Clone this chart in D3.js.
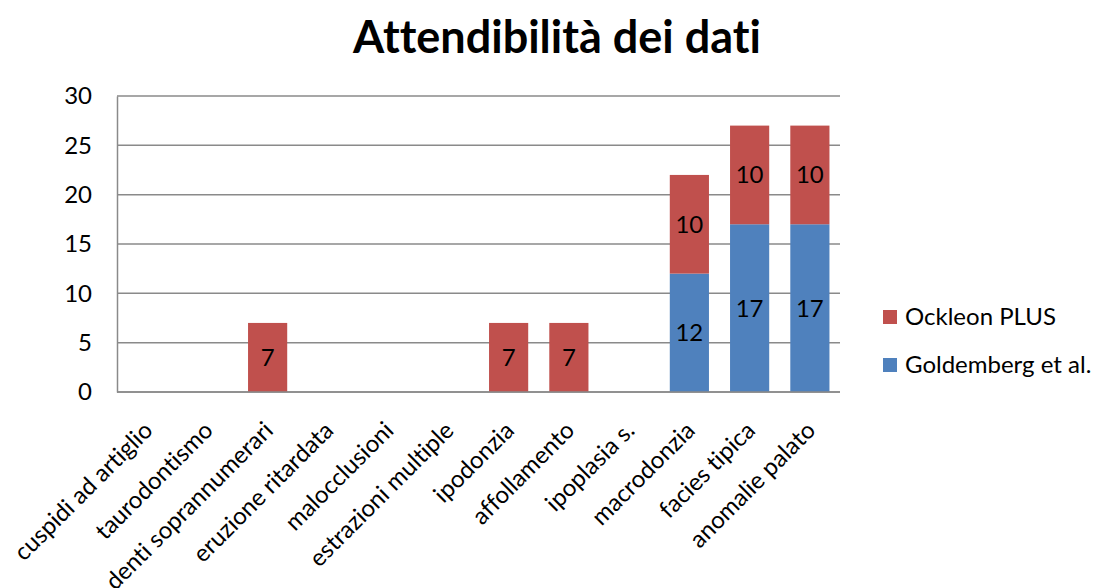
<!DOCTYPE html>
<html>
<head>
<meta charset="utf-8">
<script src="https://cdn.jsdelivr.net/npm/d3@7"></script>
<style>
  body { margin: 0; background: #fff; }
  svg { display: block; font-family: Lato, "Open Sans", "Liberation Sans", sans-serif; font-variant-ligatures: none; }
</style>
</head>
<body>
<svg id="chart" width="1099" height="588"></svg>
<script>
const categories = ["cuspidi ad artiglio", "taurodontismo", "denti soprannumerari", "eruzione ritardata",
  "malocclusioni", "estrazioni multiple", "ipodonzia", "affollamento", "ipoplasia s.",
  "macrodonzia", "facies tipica", "anomalie palato"];
const goldemberg = [0, 0, 0, 0, 0, 0, 0, 0, 0, 12, 17, 17];
const ockleon = [0, 0, 7, 0, 0, 0, 7, 7, 0, 10, 10, 10];
const seriesNames = ["Goldemberg et al.", "Ockleon PLUS"];
const yTicks = [0, 5, 10, 15, 20, 25, 30];

const colors = { "Goldemberg et al.": "#4F81BD", "Ockleon PLUS": "#C0504D" };

const svg = d3.select("#chart");
const margin = { left: 117, right: 1099 - 840, top: 96, bottom: 588 - 392 };
const width = 1099 - margin.left - margin.right;
const height = 588 - margin.top - margin.bottom;

svg.append("text")
  .attr("x", 557).attr("y", 53)
  .attr("text-anchor", "middle")
  .attr("font-size", 45).attr("font-weight", "bold")
  .text("Attendibilità dei dati");

const g = svg.append("g").attr("transform", `translate(${margin.left},${margin.top})`);

const x = d3.scaleBand().domain(categories).range([0, width]).paddingInner(0.35).paddingOuter(0.175);
const y = d3.scaleLinear().domain([0, 30]).range([height, 0]);

// gridlines
g.append("g").selectAll("line").data(yTicks).join("line")
  .attr("x1", 0).attr("x2", width)
  .attr("y1", d => y(d)).attr("y2", d => y(d))
  .attr("stroke", "#8a8a8a").attr("stroke-width", 1.5);

// y axis
const yAxis = g.append("g").call(d3.axisLeft(y).tickValues(yTicks).tickSize(0).tickPadding(25));
yAxis.select(".domain").attr("stroke", "#8a8a8a").attr("stroke-width", 1.5);
yAxis.selectAll("text").attr("font-size", 24).attr("fill", "#000")
  .attr("font-family", "Lato, 'Open Sans', sans-serif");

// stacked bars
const rows = categories.map((c, i) => ({ cat: c, "Goldemberg et al.": goldemberg[i], "Ockleon PLUS": ockleon[i] }));
const stack = d3.stack().keys(seriesNames)(rows);

const layers = g.append("g").selectAll("g").data(stack).join("g")
  .attr("fill", d => colors[d.key]);
layers.selectAll("rect").data(d => d.filter(p => p[1] - p[0] > 0)).join("rect")
  .attr("x", d => x(d.data.cat))
  .attr("width", x.bandwidth())
  .attr("y", d => y(d[1]))
  .attr("height", d => y(d[0]) - y(d[1]));

// value labels
layers.selectAll("text").data(d => d.filter(p => p[1] - p[0] > 0)).join("text")
  .attr("x", d => x(d.data.cat) + x.bandwidth() / 2)
  .attr("y", d => (y(d[0]) + y(d[1])) / 2)
  .attr("dy", "0.35em")
  .attr("text-anchor", "middle")
  .attr("font-size", 24).attr("fill", "#000")
  .text(d => d[1] - d[0]);

// bottom axis line
g.append("line").attr("x1", 0).attr("x2", width).attr("y1", height).attr("y2", height)
  .attr("stroke", "#8a8a8a").attr("stroke-width", 1.5);

// category labels
g.append("g").selectAll("text").data(categories).join("text")
  .attr("transform", d => `translate(${x(d) + x.bandwidth() / 2 + 1},${height + 34}) rotate(-45)`)
  .attr("text-anchor", "end")
  .attr("dy", "0.35em")
  .attr("font-size", 24).attr("fill", "#000")
  .text(d => d);

// legend
const legendOrder = ["Ockleon PLUS", "Goldemberg et al."];
const legend = svg.append("g").selectAll("g").data(legendOrder).join("g")
  .attr("transform", (d, i) => `translate(883,${310 + i * 48})`);
legend.append("rect").attr("width", 14).attr("height", 14).attr("fill", d => colors[d]);
legend.append("text").attr("x", 22).attr("y", 7).attr("dy", "0.35em")
  .attr("font-size", 24).attr("fill", "#000").text(d => d);
</script>
</body>
</html>
